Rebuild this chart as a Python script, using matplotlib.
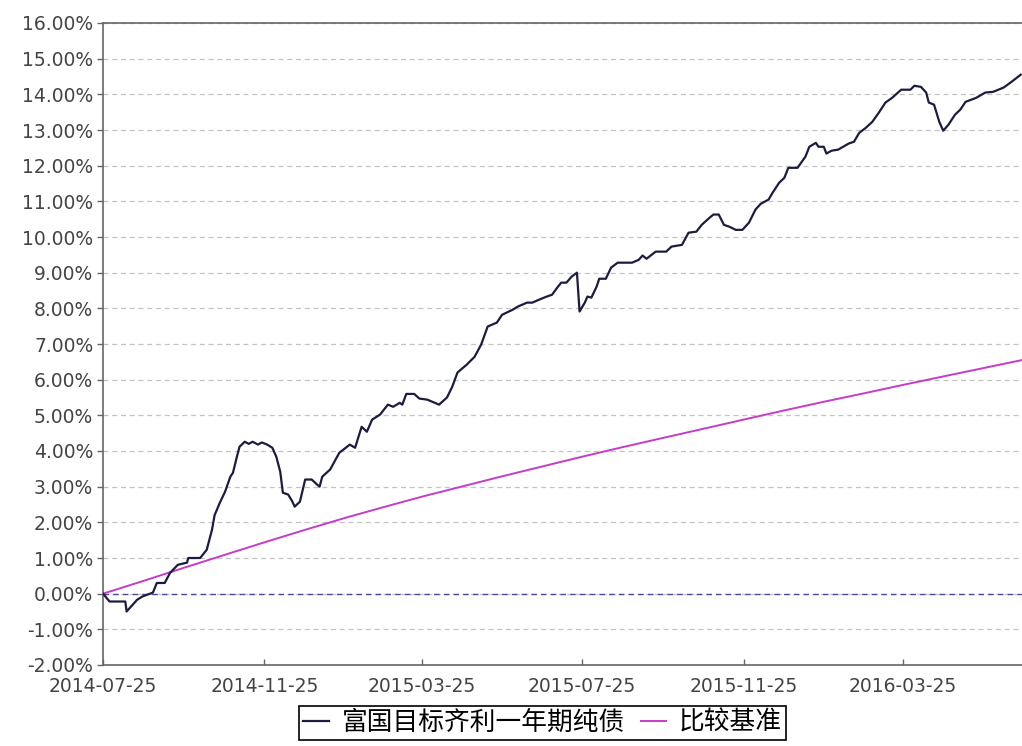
import pandas as pd
import matplotlib
matplotlib.use("Agg")
import matplotlib.pyplot as plt
import matplotlib.dates as mdates
import matplotlib.ticker as ticker

plt.rcParams['font.family'] = ['DejaVu Sans', 'Noto Sans CJK SC']

# data
start = pd.Timestamp('2014-07-25')
end = pd.Timestamp('2016-06-24')

# fund: days since start, cumulative return (%)
fund_days = [0, 5, 17, 18, 26, 30, 38, 41, 47, 51, 57, 64, 65, 74, 79, 83, 85, 89, 93, 97,
             99, 102, 104, 108, 111, 114, 118, 121, 125, 129, 132, 135, 137, 141, 144, 146, 150, 154, 159, 163,
             165, 167, 173, 180, 188, 192, 197, 201, 205, 211, 217, 221, 226, 228, 231, 237, 241, 247, 256, 262,
             266, 270, 277, 283, 288, 293, 300, 304, 312, 316, 323, 327, 332, 338, 342, 346, 349, 353, 357, 361,
             363, 367, 369, 372, 376, 378, 383, 387, 392, 403, 408, 411, 414, 421, 429, 433, 441, 446, 452, 456,
             462, 465, 469, 473, 477, 482, 487, 492, 497, 501, 507, 510, 515, 519, 522, 529, 535, 538, 543, 545,
             549, 551, 555, 560, 568, 572, 576, 581, 586, 591, 596, 601, 608, 615, 618, 623, 627, 629, 633, 637,
             640, 644, 649, 653, 657, 665, 672, 678, 686, 692, 699]
fund_vals = [0.00, -0.22, -0.22, -0.50, -0.17, -0.08, 0.03, 0.30, 0.30, 0.58, 0.81, 0.87, 1.00, 1.00, 1.23, 1.79, 2.20, 2.55, 2.86, 3.28,
             3.39, 3.84, 4.12, 4.26, 4.20, 4.26, 4.18, 4.24, 4.18, 4.09, 3.84, 3.42, 2.83, 2.78, 2.60, 2.44, 2.58, 3.20, 3.20, 3.06,
             3.00, 3.28, 3.48, 3.95, 4.18, 4.09, 4.68, 4.54, 4.88, 5.02, 5.30, 5.24, 5.35, 5.30, 5.60, 5.60, 5.47, 5.44, 5.30, 5.50,
             5.80, 6.20, 6.42, 6.64, 6.98, 7.49, 7.60, 7.82, 7.96, 8.05, 8.16, 8.16, 8.24, 8.33, 8.38, 8.58, 8.72, 8.72, 8.89, 9.00,
             7.91, 8.16, 8.33, 8.30, 8.61, 8.83, 8.83, 9.14, 9.28, 9.28, 9.36, 9.48, 9.39, 9.59, 9.59, 9.73, 9.78, 10.12, 10.15, 10.34,
             10.54, 10.63, 10.63, 10.34, 10.29, 10.20, 10.20, 10.40, 10.77, 10.93, 11.05, 11.24, 11.52, 11.66, 11.94, 11.94, 12.25, 12.53, 12.64, 12.53,
             12.53, 12.34, 12.42, 12.45, 12.62, 12.67, 12.92, 13.06, 13.23, 13.49, 13.77, 13.90, 14.13, 14.13, 14.24, 14.21, 14.05, 13.77, 13.71, 13.23,
             12.98, 13.15, 13.43, 13.57, 13.79, 13.90, 14.05, 14.07, 14.19, 14.35, 14.55]

bench_dates = ['2014-07-25', '2014-08-25', '2014-09-25', '2014-10-25', '2014-11-25', '2014-12-25',
               '2015-01-25', '2015-02-25', '2015-03-25', '2015-04-25', '2015-05-25', '2015-06-25',
               '2015-07-25', '2015-08-25', '2015-09-25', '2015-10-25', '2015-11-25', '2015-12-25',
               '2016-01-25', '2016-02-25', '2016-03-25', '2016-04-25', '2016-05-25', '2016-06-24']
bench_vals = [0.00, 0.36, 0.73, 1.08, 1.44, 1.78, 2.12, 2.44, 2.72, 3.01, 3.29, 3.57,
              3.84, 4.11, 4.37, 4.62, 4.88, 5.13, 5.38, 5.62, 5.85, 6.09, 6.32, 6.55]

tick_dates = ['2014-07-25', '2014-11-25', '2015-03-25', '2015-07-25', '2015-11-25', '2016-03-25']
names = ['富国目标齐利一年期纯债', '比较基准']

fund_x = [start + pd.Timedelta(days=d) for d in fund_days]
bench_x = pd.to_datetime(bench_dates)

fig = plt.figure(figsize=(10.22, 7.46), dpi=100)
ax = fig.add_axes([103/1022, 1 - 665/746, 1 - 103/1022, (665 - 23)/746])

ax.plot(fund_x, fund_vals, color='#1c1c40', lw=1.6, label=names[0], zorder=4)
ax.plot(bench_x, bench_vals, color='#c63cc6', lw=1.4, label=names[1], zorder=3)
ax.axhline(0, color='#4a4a9a', lw=1, ls=(0, (4, 3)), zorder=2)

ax.set_xlim(start, end)
ax.set_ylim(-2, 16)
ax.yaxis.set_major_locator(ticker.MultipleLocator(1))
ax.yaxis.set_major_formatter(ticker.FuncFormatter(lambda v, p: '%.2f%%' % v))
ax.set_xticks(pd.to_datetime(tick_dates))
ax.xaxis.set_major_formatter(mdates.DateFormatter('%Y-%m-%d'))

ax.grid(axis='y', color='#c4c4c4', lw=0.9, ls=(0, (4, 3)))
ax.set_axisbelow(True)

for s in ['left', 'bottom', 'top']:
    ax.spines[s].set_color('#666666')
    ax.spines[s].set_linewidth(1.2)
ax.spines['right'].set_visible(False)

ax.tick_params(axis='y', direction='out', length=4, width=1, color='#666666',
               labelsize=13.5, labelcolor='#444444', pad=3)
ax.tick_params(axis='x', direction='in', length=4, width=1, color='#666666',
               labelsize=13.5, labelcolor='#444444', pad=9)

leg = fig.legend(loc='center', bbox_to_anchor=(0.531, 1 - 723/746), ncol=2,
                 frameon=True, fancybox=False, edgecolor='black', framealpha=1,
                 handlelength=1.0, handletextpad=0.5, columnspacing=0.6,
                 borderpad=0.15, prop={'family': 'Noto Sans CJK SC', 'size': 18.5})
leg.get_frame().set_linewidth(1.2)

fig.savefig('out.png', dpi=100)
